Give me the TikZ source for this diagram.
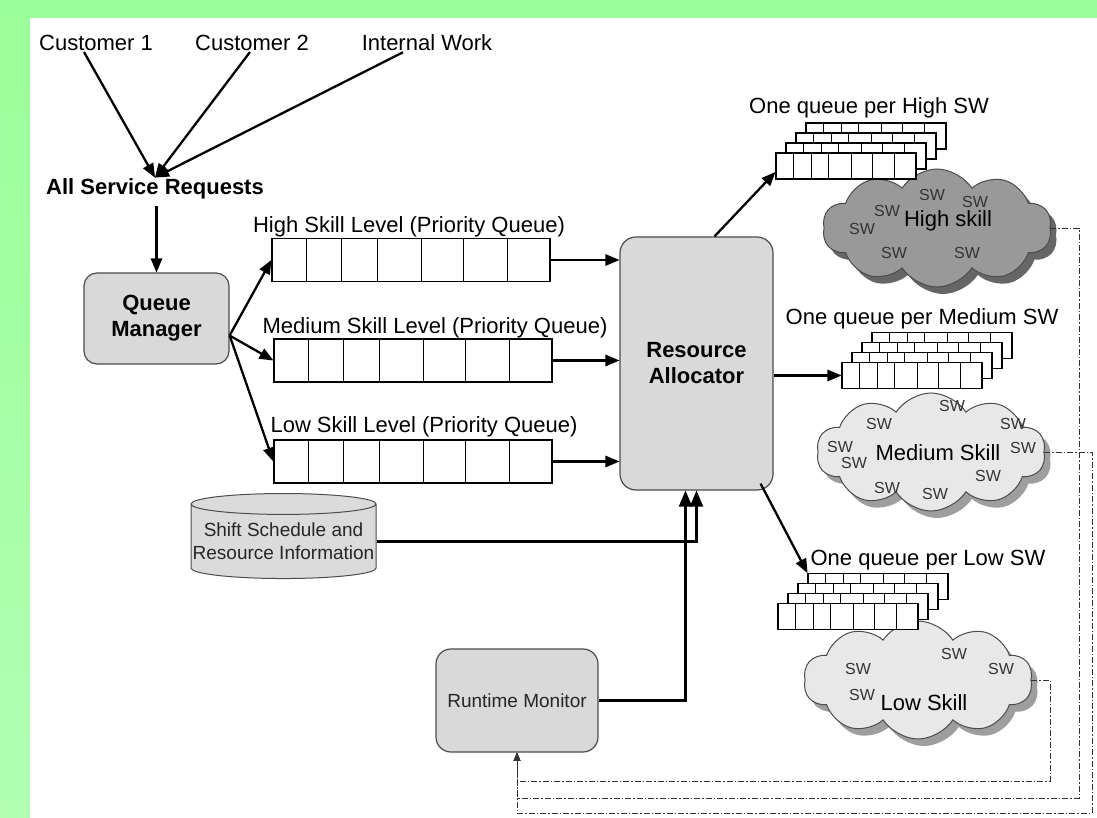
\documentclass[tikz,border=0pt]{standalone}
\usepackage{fontspec}
\setmainfont{Liberation Sans}
\usetikzlibrary{arrows,calc,shapes.geometric,shapes.symbols,shadows}
\definecolor{bgtop}{RGB}{153,255,153}
\definecolor{bgbot}{RGB}{178,255,178}
\definecolor{boxgray}{RGB}{217,217,217}
\tikzset{
  lbl/.style = {inner sep=1pt, font=\fontsize{22}{26}\selectfont},
  lblb/.style = {inner sep=1pt, font=\fontsize{22}{26}\selectfont\bfseries},
  procbox/.style = {draw=black!70, fill=boxgray, line width=1.2pt, align=center,
    inner sep=0pt},% grey rounded boxes
  pq/.style = {draw=black, fill=white, line width=1.2pt, minimum width=278pt,
    minimum height=43pt, inner sep=0pt},% priority queue
  swq/.style = {draw=black, fill=white, line width=1.1pt, minimum width=140pt,
    minimum height=26pt, inner sep=0pt},% one queue per SW
  skillcloud/.style = {cloud, cloud puffs=10, cloud puff arc=115, aspect=2,
    draw=black!70, line width=1pt, inner sep=0pt, minimum width=229pt,
    minimum height=118pt},
  swtxt/.style = {inner sep=0pt, text=black!80, font=\fontsize{16}{18}\selectfont},
  flow/.style = {-triangle 45, line width=2.3pt},
  feed/.style = {-triangle 45, line width=2.8pt},
  fb/.style = {-triangle 45, line width=0.9pt, black!80,
    dash pattern=on 6pt off 2pt on 1.5pt off 2pt}
}

\begin{document}
\begin{tikzpicture}[x=1pt,y=-1pt]
  \useasboundingbox (0,0) rectangle (1097,818);
  \shade[top color=bgtop, bottom color=bgbot] (0,0) rectangle (1097,818);
  \fill[white] (30,18) rectangle (1097,818);

  % sources
  \node [lbl] (c1) at (96,43) {Customer 1};
  \node [lbl] (c2) at (252,43) {Customer 2};
  \node [lbl] (iw) at (427,43) {Internal Work};
  \node [lblb] (asr) at (155,189) {All Service Requests};

  \draw [flow] ([xshift=-12pt]c1.south) -- (asr.north);
  \draw [flow] ([xshift=-2pt]c2.south) -- (asr.north);
  \draw [flow] ([xshift=-24pt]iw.south) -- (asr.north);

  \node [procbox, rounded corners=13pt, minimum width=145pt, minimum height=91pt,
    font=\fontsize{22}{26}\selectfont\bfseries] (qm) at (156.5,318.5) {Queue\\Manager};
  \draw [flow] ([yshift=-6pt]asr.south -| qm.north) -- (qm.north);

  % priority queues
  \node [lbl] (hql) at (409,227) {High Skill Level (Priority Queue)};
  \node [pq] (hq) at (411,260) {};
  \node [lbl] (mql) at (435,328) {Medium Skill Level (Priority Queue)};
  \node [pq] (mq) at (413,360.5) {};
  \node [lbl] (lql) at (424,427) {Low Skill Level (Priority Queue)};
  \node [pq] (lq) at (413,461.5) {};
  \foreach \q in {hq,mq,lq}
    \foreach \f in {.126,.252,.378,.536,.687,.845}
      \draw [line width=0.7pt] ($(\q.north west)!\f!(\q.north east)$) -- ($(\q.south west)!\f!(\q.south east)$);

  \foreach \to in {hq,mq,lq}
    \draw [flow] ([yshift=-17pt]qm.east) -- (\to.west);

  \node [procbox, rounded corners=16pt, minimum width=153pt, minimum height=253pt,
    font=\fontsize{22}{26}\selectfont\bfseries] (ra) at (696.5,363.5) {Resource\\Allocator};
  \foreach \from in {hq,mq,lq}
    \draw [flow] (\from.east) -- (\from.east -| ra.west);

  % shift schedule and runtime monitor
  \node [cylinder, shape border rotate=90, aspect=0.115, draw=black!70, fill=black!14,
    line width=1pt, minimum width=185pt, minimum height=85pt, align=center, inner sep=0pt,
    text=black!85, font=\fontsize{19}{23}\selectfont] (db) at (283.5,541.5)
    {Shift Schedule and\\Resource Information};
  \node [procbox, rounded corners=15pt, minimum width=162pt, minimum height=103pt,
    text=black!85, font=\fontsize{19}{23}\selectfont] (rm) at (517,700.5) {Runtime Monitor};
  \draw [feed] (db.east) -| (ra.south);
  \draw [feed] (rm.east) -| ([xshift=-11pt]ra.south);

  % skill pools
  \node [skillcloud, fill=black!40, drop shadow={shadow xshift=6pt, shadow yshift=-7pt,
    fill=black!60, opacity=1}] (hc) at (937,228) {};
  \node [skillcloud, fill=black!9, drop shadow={shadow xshift=6pt, shadow yshift=-7pt,
    fill=black!38, opacity=1}] (mc) at (931,452) {};
  \node [skillcloud, fill=black!9, drop shadow={shadow xshift=6pt, shadow yshift=-7pt,
    fill=black!38, opacity=1}] (lc) at (918,680) {};

  \foreach \x/\y [count=\i] in {932/195,975/202,887/211,862/229,894/253,967/253}
    \node [swtxt] (hsw\i) at (\x,\y) {SW};
  \foreach \x/\y [count=\i] in {952/406,879/424,1013/424,840/447,854/463,1023/448,988/476,887/488,935/494}
    \node [swtxt] (msw\i) at (\x,\y) {SW};
  \foreach \x/\y [count=\i] in {954/654,858/669,1001/669,862/695}
    \node [swtxt] (lsw\i) at (\x,\y) {SW};
  \node [lbl] (hct) at (948,221) {High skill};
  \node [lbl] (mct) at (938,453) {Medium Skill};
  \node [lbl] (lct) at (924,703) {Low Skill};

  % one queue per SW
  \node [lbl] (hst) at (869,108) {One queue per High SW};
  \node [lbl] (mst) at (922,319) {One queue per Medium SW};
  \node [lbl] (lst) at (928,560) {One queue per Low SW};
  \foreach \s/\x/\y in {hs/846/166,ms/912/375.5,ls/848/616.5}
    \foreach \i in {3,2,1,0}{
      \node [swq] (\s\i) at ($(\x,\y)+(10*\i,-10*\i)$) {};
      \foreach \f in {.126,.252,.378,.536,.687,.845}
        \draw [line width=0.6pt] ($(\s\i.north west)!\f!(\s\i.north east)$) -- ($(\s\i.south west)!\f!(\s\i.south east)$);
    }

  \draw [flow] ([xshift=18pt]ra.north) -- ([yshift=-6pt]hs0.west);
  \draw [flow] (ra.east |- ms0.west) -- (ms0.west);
  \draw [flow] ([xshift=-13pt,yshift=7pt]ra.south east) -- (ls3.north west);

  % feedback to the monitor
  \coordinate (hbend) at (1079,798);
  \coordinate (mbend) at (1092,813);
  \coordinate (lbend) at (1050,781);
  \draw [fb] (hc.east) -| (hbend) -| (rm.south);
  \draw [fb] (mc.east) -| (mbend) -| (rm.south);
  \draw [fb] (lc.east) -| (lbend) -| (rm.south);
\end{tikzpicture}
\end{document}
